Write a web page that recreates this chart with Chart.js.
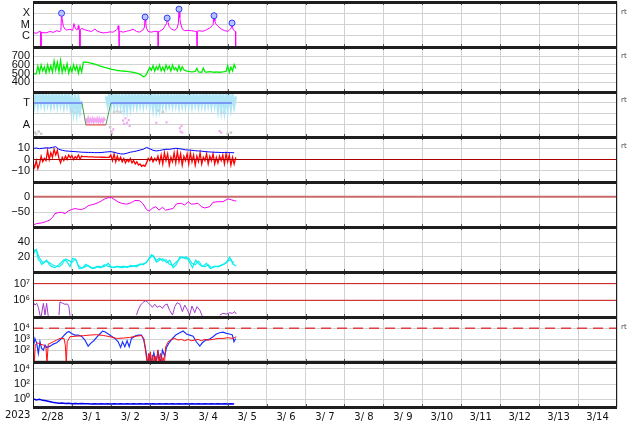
<!DOCTYPE html>
<html>
<head>
<meta charset="utf-8">
<title>Space weather summary 2023-02-28 / 03-14</title>
<script src="https://cdn.jsdelivr.net/npm/chart.js@4.4.1/dist/chart.umd.min.js"></script>
<style>
  html, body { margin: 0; padding: 0; background: #fff; }
  #wrap { position: relative; width: 634px; height: 424px; overflow: hidden; }
  #wrap canvas { position: absolute; left: 0; }
  .year { position: absolute; left: 5px; top: 409px; font: 10px 'DejaVu Sans', sans-serif; color: #111; z-index: 2; }
  .rt { position: absolute; left: 621px; font: 7px/8px 'DejaVu Sans', sans-serif; color: #444; z-index: 2; }
</style>
</head>
<body>
<div id="wrap">
  <div class="year">2023</div>
  <div class="rt" style="top:8px">rt</div>
  <div class="rt" style="top:52px">rt</div>
  <div class="rt" style="top:96px">rt</div>
  <div class="rt" style="top:142px">rt</div>
  <div class="rt" style="top:323px">rt</div>
</div>
<script>
/* ============================================================
   Data  (x = hours after 2023-02-28 00:00)
   ============================================================ */
const DAY_LABELS = ['2/28', '3/ 1', '3/ 2', '3/ 3', '3/ 4', '3/ 5', '3/ 6', '3/ 7',
                    '3/ 8', '3/ 9', '3/10', '3/11', '3/12', '3/13', '3/14'];

const HOURS1 = [
  0, 1, 2, 3, 4, 5, 6, 7, 8, 9, 10, 11, 12, 13, 14, 15, 16, 17, 18, 19,
  20, 21, 22, 23, 24, 25, 26, 27, 28, 29, 30, 31, 32, 33, 34, 35, 36, 37, 38, 39,
  40, 41, 42, 43, 44, 45, 46, 47, 48, 49, 50, 51, 52, 53, 54, 55, 56, 57, 58, 59,
  60, 61, 62, 63, 64, 65, 66, 67, 68, 69, 70, 71, 72, 73, 74, 75, 76, 77, 78, 79,
  80, 81, 82, 83, 84, 85, 86, 87, 88, 89, 90, 91, 92, 93, 94, 95, 96, 97, 98, 99,
  100, 101, 102, 103, 104, 105, 106, 107, 108, 109, 110, 111, 112, 113, 114, 115,
  116, 117, 118, 119, 120, 121, 122, 123, 124, 125];

const HOURS2 = [
  0, 2, 4, 6, 8, 10, 12, 14, 16, 18, 20, 22, 24, 26, 28, 30, 32, 34, 36, 38,
  40, 42, 44, 46, 48, 50, 52, 54, 56, 58, 60, 62, 64, 66, 68, 70, 72, 74, 76, 78,
  80, 82, 84, 86, 88, 90, 92, 94, 96, 98, 100, 102, 104, 106, 108, 110, 112, 114,
  116, 118, 120, 122, 124];

// panel 1: X-ray flux (W/m2)
const xrayHours = [
  0.2, 2.3, 4.3, 4.8, 4.9, 5.0, 5.5, 8.0, 10.5, 12.5,
  14.6, 16.6, 17.2, 17.6, 18.0, 18.7, 19.7, 20.7, 22.8, 24.5,
  25.2, 25.8, 26.9, 27.6, 27.9, 28.3, 28.8, 28.9, 29.0, 29.9,
  32.0, 34.0, 36.1, 38.2, 39.2, 41.2, 43.3, 45.3, 47.4, 49.4,
  51.5, 52.2, 52.5, 52.8, 53.0, 53.1, 53.2, 54.0, 55.6, 57.6,
  59.7, 61.7, 63.8, 65.8, 67.9, 68.7, 69.1, 69.5, 69.9, 71.0,
  73.0, 75.1, 76.9, 77.1, 77.3, 78.2, 80.2, 81.2, 82.3, 82.7,
  83.3, 83.9, 85.3, 87.4, 88.8, 89.6, 90.0, 90.5, 90.9, 92.1,
  93.5, 95.6, 97.6, 99.7, 100.9, 101.1, 101.3, 102.4, 104.8, 106.9,
  108.9, 110.5, 111.0, 111.6, 112.1, 112.6, 114.1, 116.1, 118.2, 120.2,
  121.2, 122.3, 122.7, 123.0, 123.3, 124.3, 124.8, 124.9, 125.0];
const xrayFlux = [
  1.8e-6, 1.7e-6, 2.6e-6, 2.2e-6, 1e-8, 2.0e-6, 1.9e-6, 1.8e-6, 2.4e-6, 2.0e-6,
  2.8e-6, 2.3e-6, 3.0e-6, 1.0e-4, 3.0e-5, 7e-6, 4e-6, 3.2e-6, 3.8e-6, 3.0e-6,
  1.2e-5, 6e-6, 3.2e-6, 4e-6, 8e-6, 3.5e-6, 3e-6, 1e-8, 3.2e-6, 4.5e-6,
  3.4e-6, 2.8e-6, 2.4e-6, 4e-6, 2.8e-6, 2.1e-6, 1.8e-6, 1.9e-6, 2.2e-6, 2.1e-6,
  3.4e-6, 4e-6, 7.8e-6, 4e-6, 3e-6, 1e-8, 2.6e-6, 2.4e-6, 2.1e-6, 2.5e-6,
  2.9e-6, 3.9e-6, 2.4e-6, 2.1e-6, 3.4e-6, 6e-6, 4.6e-5, 1.5e-5, 4.8e-6, 2.4e-6,
  2.1e-6, 2.5e-6, 2.4e-6, 1e-8, 2.4e-6, 2.5e-6, 3.9e-6, 6.8e-6, 1.2e-5, 3.7e-5,
  1.5e-5, 6.8e-6, 3.9e-6, 3.0e-6, 4.8e-6, 1.2e-5, 2.3e-4, 4e-5, 1.35e-5, 3.9e-6,
  2.8e-6, 3.0e-6, 2.8e-6, 2.5e-6, 2.5e-6, 1e-8, 2.6e-6, 2.8e-6, 2.5e-6, 3.4e-6,
  4.8e-6, 8e-6, 9.5e-6, 6.0e-5, 2.0e-5, 1.17e-5, 6.8e-6, 3.9e-6, 2.8e-6, 2.5e-6,
  3.4e-6, 5e-6, 1.35e-5, 6e-6, 3.9e-6, 2.5e-6, 2.4e-6, 1e-8, 1e-8];
const flareHours = [17.6, 69.1, 82.7, 90.0, 111.6, 122.7];
const flareFlux  = [1.0e-4, 4.6e-5, 3.7e-5, 2.3e-4, 6.0e-5, 1.35e-5];

// panel 2: solar wind speed (km/s), hourly
const windSpeed = [
  495, 500, 498, 585, 512, 598, 530, 575, 508, 600,
  525, 590, 518, 645, 540, 628, 522, 650, 515, 590,
  530, 612, 508, 575, 520, 602, 540, 590, 505, 585,
  520, 630, 635, 630, 628, 622, 618, 614, 610, 604,
  598, 590, 584, 578, 572, 568, 562, 558, 553, 548,
  545, 540, 536, 534, 532, 528, 530, 526, 525, 522,
  520, 518, 515, 510, 505, 500, 492, 482, 465, 470,
  495, 535, 570, 540, 592, 528, 580, 545, 600, 532,
  575, 528, 598, 550, 585, 530, 600, 545, 570, 528,
  592, 535, 580, 545, 535, 528, 525, 522, 520, 522,
  525, 562, 520, 518, 515, 565, 520, 518, 520, 522,
  520, 518, 516, 520, 518, 516, 518, 520, 522, 525,
  590, 515, 575, 530, 605, 560];

// panel 3: mode flags (T = 1, A = 0) and quality samples
const modeTHours = [0, 30.2, 39, 48, 122.6];
const modeT      = [1, 1, null, 1, 1];
const modeSwHours = [30.2, 32.6, 39, 44.9, 48];
const modeSw      = [1, 0, null, 0, 1];
const modeAHours = [32.6, 44.9];
const modeA      = [0, 0];
const bandT = [
  1.40, 0.92, 1.45, 0.88, 1.42, 0.95, 1.38, 0.90, 1.44, 0.96,
  1.35, 0.88, 1.42, 0.93, 1.40, 0.90, 1.43, 0.94, 1.36, 0.88,
  1.40, 0.92, 1.38, 0.82, 1.35, 0.62, 1.30, 0.58, 1.25, 0.65,
  1.10, null, null, null, null, null, null, null, null, null,
  null, null, null, null, null, 1.30, 0.92, 1.42, 0.87, 1.38,
  0.90, 1.44, 0.93, 1.40, 0.88, 1.36, 0.78, 1.42, 0.76, 1.40,
  0.82, 1.45, 0.92, 1.38, 0.88, 1.43, 0.94, 1.40, 0.90, 1.44,
  0.95, 1.36, 0.88, 1.42, 0.78, 1.40, 0.76, 1.38, 0.80, 1.44,
  0.92, 1.40, 0.88, 1.42, 0.93, 1.38, 0.90, 1.43, 0.94, 1.40,
  0.88, 1.44, 0.92, 1.38, 0.90, 1.42, 0.93, 1.40, 0.90, 1.43,
  0.94, 1.36, 0.88, 1.42, 0.92, 1.40, 0.90, 1.44, 0.93, 1.38,
  0.88, 1.42, 0.92, 1.40, 0.75, 1.43, 0.72, 1.45, 0.70, 1.40,
  0.75, 1.42, 0.80, 1.38, 0.85, 1.30];
const pinkBandHours = [32.6, 33.3, 34.0, 34.7, 35.4, 36.1, 36.8, 37.5, 38.2, 38.9,
                       39.6, 40.3, 41.0, 41.7, 42.4, 43.1, 43.8, 44.5];
const pinkBand = [0.30, 0.14, 0.31, 0.12, 0.27, 0.15, 0.29, 0.13, 0.27, 0.16,
                  0.30, 0.12, 0.28, 0.14, 0.26, 0.13, 0.29, 0.20];
const pinkDotHours = [48.5, 49.5, 55.5, 56.2, 57.0, 58.0, 59.0, 59.6, 76.0, 82.3,
                      90.5, 91.0, 91.5, 92.0, 115.0, 116.0];
const pinkDots = [-0.30, -0.20, 0.20, 0.05, 0.30, 0.10, 0.22, -0.05, 0.10, 0.12,
                  -0.15, -0.30, -0.05, -0.35, -0.28, -0.35];
const grayDotHours = [1.2, 2.0, 3.5, 5.0, 24.5, 26.0, 27.5, 29.0, 47.5, 48.5,
                      50.0, 52.0, 54.0, 56.0, 77.0, 80.0, 116.0, 118.0, 120.0, 122.0];
const grayDots = [-0.35, -0.42, -0.30, -0.40, 0.62, 0.55, 0.60, 0.50, -0.10, -0.40,
                  0.60, 0.62, 0.58, 0.65, 0.66, 0.60, 0.60, 0.55, -0.40, -0.35];

// panel 4: IMF Bt (2 h) and Bz (hourly), nT
const imfBt = [
  9.8, 10.2, 9.6, 10, 10.4, 10.2, 10.8, 11.4, 9, 8.2,
  7.6, 7.4, 7.2, 7, 6.8, 6.5, 6.4, 6.3, 6.3, 6.1,
  6.1, 6.2, 6.5, 6.8, 7, 6.4, 5.6, 5, 4.9, 5.6,
  6.5, 7, 7.6, 8.4, 9.1, 10.8, 9.5, 8.2, 7.6, 8,
  8.6, 9.1, 9, 9.5, 10, 9.6, 9.2, 8.6, 8.4, 8.2,
  7.8, 7.6, 7.4, 7, 6.8, 6.6, 6.4, 6.4, 6.2, 6.2,
  6.1, 6.1, 6];
const imfBz = [
  -3, -7, -1, -8, -4, 3, -2, 1, -1, 8,
  0, 6, 2, 9, 4, 8, 1, -3, 2, -1,
  3, 0, 4, 1.5, 3.5, 0, 2.5, 1, 4, 0.5,
  3, 2.5, 2.5, 2.5, 2.4, 2.4, 2.3, 2.3, 2.2, 2.2,
  2.1, 2.1, 2, 2, 2, 1.9, 1.9, 2, 4, -1,
  5, -2, 3, -1, 2, -2, 1, -3, 0, -2,
  1, -3, -1, -4, -2, -5, -4, -6, -5, -6,
  -3, 1, -1, 2, -2, 1, -1, 3, -3, 4,
  -4, 6, -1, 5, -5, 2, -2, 6, -3, 7,
  -2, 5, -5, 3, -1, 5, -4, 6, -2, 4,
  -5, 3, -2, 6, -4, 2, -1, 5, -4, 3,
  -1, 5, -4, 2, -3, 3, -1, 4, -4, 5,
  -2, 4, -5, 2, -4, 2];

// panel 5: Dst (nT)
const dstHours = [
  0.2, 2.3, 5.3, 8.4, 10.5, 12.1, 13.5, 15.6, 17.6, 19.7,
  21.7, 23.8, 25.8, 27.9, 29.9, 32.0, 34.0, 36.1, 38.2, 40.2,
  42.3, 44.3, 46.4, 48.4, 50.5, 52.5, 54.6, 57.6, 60.7, 62.8,
  65.8, 67.9, 69.9, 71.6, 73.6, 75.7, 77.7, 79.8, 81.8, 84.3,
  86.4, 88.4, 91.5, 93.5, 95.6, 97.6, 99.7, 101.7, 103.8, 105.8,
  108.9, 111.0, 114.1, 117.1, 120.2, 122.3, 124.3, 125.3];
const dst = [
  -90, -86, -84, -79, -74, -66, -54, -51, -50, -54,
  -46, -41, -38, -40, -41, -37, -29, -26, -23, -19,
  -13, -7, -3, -3, -10, -17, -21, -24, -19, -12,
  -13, -23, -41, -46, -37, -32, -43, -34, -43, -40,
  -38, -23, -21, -27, -16, -24, -23, -21, -32, -36,
  -32, -18, -16, -16, -7, -10, -13, -14];

// panel 6: proton density, two instruments (/cc)
const densAHours = [
  0.2, 1.2, 2.3, 3.3, 4.3, 5.3, 6.8, 8.4, 10.0, 11.5,
  13.5, 15.6, 17.6, 19.1, 20.7, 22.8, 24.4, 26.5, 28.5, 30.6,
  32.6, 34.7, 36.7, 39.2, 41.2, 43.7, 46.4, 48.4, 51.5, 54.6,
  57.6, 60.7, 63.8, 66.9, 69.9, 73.0, 74.5, 76.1, 78.2, 80.2,
  82.3, 84.3, 86.4, 88.4, 90.5, 92.5, 94.6, 96.2, 98.3, 100.3,
  102.4, 104.4, 106.9, 109.3, 112.0, 114.7, 117.1, 119.2, 121.2, 123.3,
  125.3];
const densA = [
  22.7, 29.4, 27.2, 16, 13.9, 9.5, 11.7, 15.2, 9.5, 6.4,
  5, 8.1, 12.6, 16, 14, 6.4, 17.9, 16, 3.7, 5,
  9.5, 6.4, 3.7, 6.4, 5, 6.4, 10.8, 5, 6.4, 5,
  6.4, 6.4, 8.1, 9.5, 11.7, 22.8, 19.7, 12.6, 16, 17,
  11.7, 15.2, 5, 9.5, 19.7, 18.4, 19.7, 13.9, 5, 15.2,
  9.5, 6.4, 10.8, 3.7, 6.4, 7.2, 9.5, 11.7, 19.7, 9.5,
  7.2];
const densB = [
  26, 30, 18, 12, 14, 12, 9, 7, 6, 10,
  17, 15, 12, 17, 8, 4, 6, 8, 5, 4,
  7, 6, 9, 7, 6, 5, 7, 6, 7, 5,
  8, 7, 6, 10, 9, 13, 18, 22, 15, 18,
  14, 16, 10, 8, 12, 16, 20, 17, 18, 11,
  9, 14, 8, 6, 9, 5, 7, 6, 8, 10,
  14, 16, 11];

// panel 7: electron flux
const elecHours = [
  0.2, 1.2, 2.3, 3.3, 4.3, 4.9, 6.4, 7.4, 8.4, 9.4,
  10, 16.0, 16.6, 18.3, 19.7, 21.3, 22.1, 22.8, 40, 63.8,
  64.8, 66.3, 67.9, 69.5, 71.0, 72.4, 73.6, 75.1, 76.5, 78.2,
  79.8, 81.2, 82.7, 84.3, 86.0, 87.4, 88.8, 90.5, 92.1, 93.5,
  95.0, 96.6, 98.0, 99.7, 101.1, 102.8, 104.4, 110, 115.1, 117.1,
  119.2, 121.2, 122.9, 124.3, 125.3];
const elecFlux = [
  7.6e5, 5.2e5, 6.6e5, 3.8e5, 1.3e5, 9e4, 6.6e5, 1.3e5, 6.6e5, 1.1e5,
  null, 1.3e5, 8e5, 6.6e5, 5.8e5, 6e5, 4.2e5, 1.2e5, null, 1.3e5,
  2.6e5, 5.2e5, 7.6e5, 9.5e5, 7.2e5, 5.2e5, 3.8e5, 5.8e5, 3.8e5, 4.6e5,
  3.3e5, 5.2e5, 6e5, 2.4e5, 1.3e5, 4.2e5, 7.2e5, 6e5, 2.1e5, 5.2e5,
  2.9e5, 1.3e5, 4.6e5, 1.8e5, 4.2e5, 2.6e5, 1.1e5, null, 1.3e5, 1.65e5,
  1.5e5, 1.8e5, 1.65e5, 2.1e5, 1.5e5];

// panel 8: two flux channels
const chanBlueHours = [
  0.2, 1.2, 2.3, 3.3, 4.3, 5.3, 6.4, 7.4, 8.4, 10.5,
  12.5, 14.6, 16.6, 18.7, 20.7, 22.1, 23.8, 25.8, 27.9, 29.9,
  32.0, 34.0, 35.5, 37.5, 39.6, 41.2, 42.9, 44.3, 46.4, 48.4,
  50.5, 52.5, 54.0, 55.2, 56.6, 58.0, 59.3, 60.7, 62.8, 64.8,
  66.9, 68.3, 69.5, 70.6, 72.0, 73.0, 74.5, 75.7, 77.1, 78.6,
  79.8, 81.2, 82.3, 83.9, 86.0, 88.0, 90.5, 92.5, 94.6, 96.6,
  98.7, 100.7, 102.8, 104.4, 106.5, 108.5, 111.0, 113.0, 115.1, 117.1,
  119.2, 121.2, 122.9, 123.9, 124.9];
const chanBlue = [
  200, 1180, 410, 49, 580, 140, 100, 290, 175, 230,
  355, 470, 830, 1900, 3900, 5200, 3400, 2400, 2400, 1900,
  830, 230, 410, 720, 1700, 3000, 5600, 4800, 3000, 1900,
  1180, 580, 175, 580, 200, 720, 200, 1180, 1900, 2400,
  2400, 830, 100, 6, 35, 6, 57, 6, 70, 6,
  100, 28, 175, 470, 1180, 2400, 3900, 5600, 3000, 2400,
  1900, 580, 230, 470, 830, 955, 1700, 3000, 3900, 4500,
  3400, 3000, 2400, 580, 1180];
const chanRedHours = [
  0.2, 0.8, 1.4, 2.7, 4.3, 6.4, 8.0, 8.6, 9.4, 10.5,
  12.5, 14.6, 16.6, 19.1, 19.9, 20.5, 21.1, 22.8, 26.9, 31.0,
  35.1, 39.2, 43.3, 47.4, 51.5, 55.6, 59.7, 63.8, 66.9, 68.3,
  69.1, 69.9, 70.6, 71.2, 71.8, 72.4, 73.0, 73.6, 74.5, 75.3,
  76.1, 76.9, 77.7, 78.6, 79.4, 80.2, 81.0, 81.8, 83.3, 85.3,
  87.4, 89.4, 91.5, 93.5, 95.6, 97.6, 99.7, 101.7, 103.8, 105.8,
  107.9, 111.0, 114.1, 117.1, 120.2, 123.3, 125.3];
const chanRed = [
  580, 6, 290, 470, 355, 290, 175, 6, 355, 410,
  580, 830, 1180, 1180, 290, 6, 580, 1700, 1900, 2100,
  2400, 2600, 2200, 1700, 1180, 1270, 1460, 1900, 2200, 1180,
  200, 21, 6, 49, 6, 70, 6, 35, 6, 28,
  6, 100, 6, 49, 6, 21, 6, 200, 580, 955,
  1180, 830, 955, 720, 955, 720, 830, 955, 720, 955,
  830, 955, 1180, 1180, 1360, 1180, 1700];

// panel 9: low channel (2 h)
const lowChan = [
  1.2, 0.8, 1.0, 0.72, 0.62, 0.5, 0.4, 0.34, 0.3, 0.31,
  0.27, 0.29, 0.26, 0.28, 0.25, 0.27, 0.25, 0.26, 0.24, 0.26,
  0.24, 0.25, 0.23, 0.25, 0.24, 0.26, 0.23, 0.25, 0.24, 0.26,
  0.23, 0.25, 0.24, 0.26, 0.23, 0.25, 0.24, 0.26, 0.23, 0.25,
  0.24, 0.26, 0.23, 0.25, 0.24, 0.26, 0.23, 0.25, 0.24, 0.26,
  0.23, 0.25, 0.24, 0.26, 0.23, 0.25, 0.24, 0.26, 0.23, 0.25,
  0.24, 0.26, 0.24];

/* ============================================================
   Layout / style
   ============================================================ */
const W = 634, PLOT_L = 33, PAD_R = 17;
const PANEL_TOP = 2, PANEL_H = 45, EXT = 12, AXIS_H = 17;
const GRID = '#d2d2d2';
const YFONT = { family: "'Liberation Sans', Arial, sans-serif", size: 11 };
const XFONT = { family: "'DejaVu Sans', sans-serif", size: 10 };

const X_TICKS = [];
for (let d = 0; d <= DAY_LABELS.length; d++) {
  X_TICKS.push(d * 24);
  if (d < DAY_LABELS.length) X_TICKS.push(d * 24 + 12);
}

function pts(xs, ys) { return xs.map((x, i) => ({ x, y: ys[i] })); }
function hline(v) { return [{ x: 0, y: v }, { x: 360, y: v }]; }

function line(data, color, width, extra) {
  return Object.assign({ data, borderColor: color, borderWidth: width, pointRadius: 0,
                         fill: false, spanGaps: false, tension: 0 }, extra || {});
}
function dots(data, color, r) {
  return { data, showLine: false, pointRadius: r, pointStyle: 'rect', borderWidth: 0,
           pointBorderWidth: 0, pointBackgroundColor: color, borderColor: color };
}

function yAxis(type, min, max, ticks, labels) {
  return {
    type, min, max,
    border: { display: false },
    grid: { color: GRID, drawTicks: false },
    afterBuildTicks: s => { s.ticks = ticks.map(v => ({ value: v })); },
    afterFit: s => { s.width = PLOT_L; },
    ticks: { color: '#111', font: YFONT, padding: 3, autoSkip: false,
             callback: (v, i) => labels[i] },
  };
}

function xAxis(bottom) {
  return {
    type: 'linear', min: 0, max: 360,
    border: { display: false },
    grid: { drawTicks: false,
            color: c => (c.tick && c.tick.value % 24 === 0 ? GRID : 'rgba(0,0,0,0)') },
    afterBuildTicks: s => { s.ticks = X_TICKS.map(v => ({ value: v })); },
    afterFit: bottom ? s => { s.height = AXIS_H; } : undefined,
    ticks: bottom
      ? { display: true, color: '#111', font: XFONT, padding: 4, autoSkip: false,
          maxRotation: 0, minRotation: 0,
          callback: v => (v % 24 === 12 ? DAY_LABELS[(v - 12) / 24] : '') }
      : { display: false },
  };
}

// thick separators, thin side borders and day tick marks
const framePlugin = {
  id: 'panelFrame',
  afterDatasetsDraw(chart) {
    const { ctx, chartArea: a, scales: { x } } = chart;
    const left = Math.round(a.left), right = Math.round(a.right);
    const top = Math.round(a.top), bottom = Math.round(a.bottom);
    ctx.save();
    ctx.fillStyle = '#555';
    for (let d = 1; d < DAY_LABELS.length; d++) {
      const px = Math.round(x.getPixelForValue(d * 24));
      ctx.fillRect(px, top, 1, 3);
      ctx.fillRect(px, bottom - 3, 1, 3);
    }
    ctx.fillStyle = '#1e1e1e';
    ctx.fillRect(left, top, 1, bottom - top);
    ctx.fillRect(right - 1, top, 1, bottom - top);
    ctx.fillRect(left, top - 1, right - left, 3);
    ctx.fillRect(left, bottom - 1, right - left, 3);
    ctx.restore();
  },
};

const wrap = document.getElementById('wrap');

function panel(index, y, datasets, bottom) {
  const canvas = document.createElement('canvas');
  const h = PANEL_H + EXT + (bottom ? AXIS_H : EXT);
  canvas.width = W;
  canvas.height = h;
  canvas.style.top = (PANEL_TOP + index * PANEL_H - EXT) + 'px';
  wrap.appendChild(canvas);
  return new Chart(canvas, {
    type: 'line',
    data: { datasets },
    options: {
      responsive: false,
      animation: false,
      events: [],
      layout: { padding: { top: EXT, bottom: bottom ? 0 : EXT, left: 0, right: PAD_R } },
      plugins: { legend: { display: false }, tooltip: { enabled: false } },
      scales: { x: xAxis(bottom), y },
    },
    plugins: [framePlugin],
  });
}

/* ============================================================
   Panels
   ============================================================ */
panel(0, yAxis('logarithmic', 1e-7, 1e-3, [1e-4, 1e-5, 1e-6], ['X', 'M', 'C']), [
  { data: pts(flareHours, flareFlux), showLine: false, pointRadius: 3, pointBorderWidth: 1,
    pointBackgroundColor: '#b9c3ff', pointBorderColor: '#2f3cff', borderColor: '#2f3cff' },
  line(pts(xrayHours, xrayFlux), '#ff00ff', 1),
]);

panel(1, yAxis('linear', 290, 805, [400, 500, 600, 700], ['400', '500', '600', '700']), [
  line(pts(HOURS1, windSpeed), '#00ee00', 1.3),
]);

panel(2, yAxis('linear', -0.55, 1.5, [0, 0.5, 1], ['A', '', 'T']), [
  line(pts(modeTHours, modeT), '#6a7ff2', 1.5),
  line(pts(modeAHours, modeA), '#e03a3a', 1),
  line(pts(modeSwHours, modeSw), '#4f9a55', 1),
  line(pts(pinkBandHours, pinkBand), '#f2a6f0', 2),
  dots(pts(pinkDotHours, pinkDots), '#f2a6f0', 1.5),
  line(pts(HOURS1, bandT), '#aee6f8', 2.5),
  dots(pts(grayDotHours, grayDots), '#cccccc', 1.8),
]);

panel(3, yAxis('linear', -20, 20, [-10, 0, 10], ['\u221210', '0', '10']), [
  line(hline(0), '#a80000', 1),
  line(pts(HOURS2, imfBt), '#0000ff', 1),
  line(pts(HOURS1, imfBz), '#ff0000', 1.3),
]);

panel(4, yAxis('linear', -97, 47, [-50, 0], ['\u221250', '0']), [
  line(pts(dstHours, dst), '#ee00ee', 1),
  line(hline(0), '#c86a6a', 2),
]);

panel(5, yAxis('linear', -1, 61, [20, 40], ['20', '40']), [
  line(pts(densAHours, densA), '#00f0f0', 1.2),
  line(pts(HOURS2, densB), '#22e8e8', 1.2),
]);

panel(6, yAxis('logarithmic', 1e5, 5e7, [1e6, 1e7], ['10\u2076', '10\u2077']), [
  line(pts(elecHours, elecFlux), '#a23cc8', 1),
  line(hline(1e6), '#cc1414', 1),
  line(hline(1e7), '#cc1414', 1),
]);

panel(7, yAxis('logarithmic', 8, 1.1e5, [10, 100, 1e3, 1e4], ['', '10\u00b2', '10\u00b3', '10\u2074']), [
  line(pts(chanRedHours, chanRed), '#ff1010', 1),
  line(pts(chanBlueHours, chanBlue), '#1a34ff', 1.2),
  line(hline(1e4), '#e04040', 1.5, { borderDash: [10, 6] }),
]);

panel(8, yAxis('logarithmic', 0.095, 8.3e4, [1, 100, 1e4], ['10\u2070', '10\u00b2', '10\u2074']), [
  line(pts(HOURS2, lowChan), '#0000ee', 1.5),
], true);
</script>
</body>
</html>
